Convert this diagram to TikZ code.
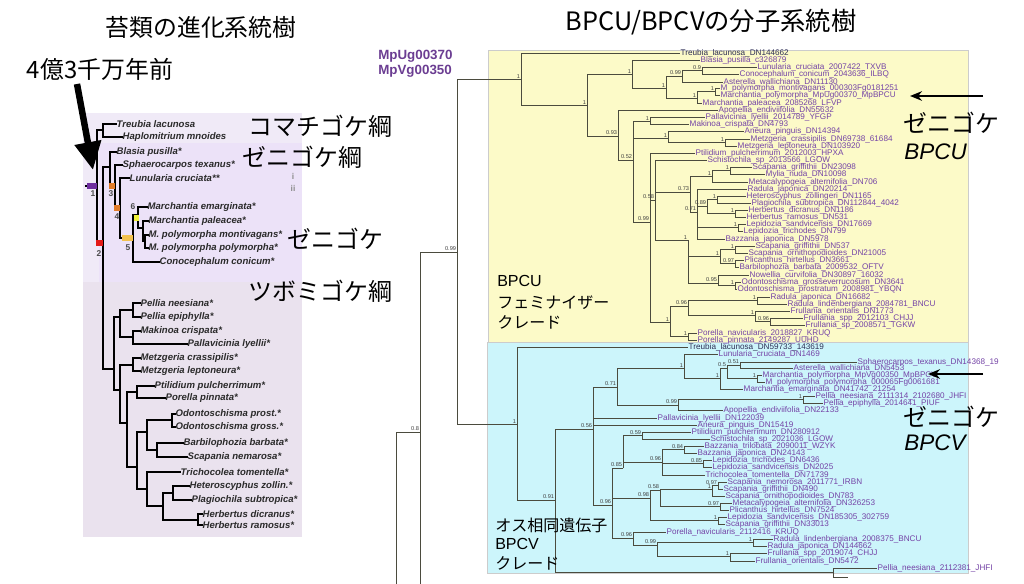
\documentclass[tikz,border=0pt]{standalone}
\usepackage{fontspec}
\usetikzlibrary{arrows.meta}
\newfontfamily\jpf{Noto Sans CJK JP}
\newfontfamily\arf{Liberation Sans}
\definecolor{lav1}{HTML}{F0EAF7}
\definecolor{lav2}{HTML}{ECE2F8}
\definecolor{lav3}{HTML}{EAE2EE}
\definecolor{ylw}{HTML}{FCFAC8}
\definecolor{cyn}{HTML}{CCF5FB}
\definecolor{prp}{HTML}{7443A6}
\definecolor{trb}{HTML}{2E2E55}
\definecolor{brn}{HTML}{4B4B3E}
\definecolor{idp}{HTML}{6B3D92}
\definecolor{lgr}{HTML}{2A2A2A}
\definecolor{mkp}{HTML}{6E2E9E}
\definecolor{mkr}{HTML}{E41B17}
\definecolor{mko}{HTML}{E07B28}
\definecolor{mky}{HTML}{F2C14E}
\definecolor{mkg}{HTML}{EFEF3A}
\tikzset{
	leafl/.style={anchor=west,inner sep=0.3pt,text=lgr,font=\arf\bfseries\itshape\fontsize{6.8}{7}\selectfont},
	leafr/.style={anchor=west,inner sep=0.3pt,text=prp,font=\arf\fontsize{5.8}{6}\selectfont},
	bsv/.style={anchor=south east,inner sep=0.5pt,text=black!75,font=\arf\fontsize{4}{4}\selectfont},
	mknum/.style={inner sep=0pt,text=black!70,font=\arf\bfseries\fontsize{6}{6}\selectfont},
	brl/.style={line width=1.3pt,line cap=rect,black},
	brr/.style={line width=0.6pt,brn},
	big/.style={font=\jpf\fontsize{17}{20}\selectfont},
	bigr/.style={anchor=west,font=\jpf\fontsize{17}{20}\selectfont},
	itl/.style={anchor=west,font=\arf\itshape\fontsize{16}{18}\selectfont},
	clade/.style={anchor=west,inner sep=0pt,font=\jpf\fontsize{11.4}{13}\selectfont},
	cladel/.style={anchor=west,inner sep=0pt,font=\arf\fontsize{11.4}{13}\selectfont},
	gid/.style={anchor=west,inner sep=0pt,text=idp,font=\arf\bfseries\fontsize{9.5}{10}\selectfont}
}
\begin{document}
\begin{tikzpicture}[x=0.025cm,y=-0.025cm]
	\useasboundingbox (0,0) rectangle (1024,584);
	\fill[white] (0,0) rectangle (1024,584);

	% backgrounds
	\fill[lav1] (83,113) rectangle (302,537);
	\fill[lav2] (99,143) rectangle (302,282);
	\fill[lav3] (83,282) rectangle (302,537);
	\fill[ylw,draw=black!20,line width=0.3pt] (488,50) rectangle (968,342);
	\fill[cyn,draw=black!20,line width=0.3pt] (487,342) rectangle (968,573);

	\node[big] (tl) at (201,27) {苔類の進化系統樹};
	\node[big,font=\jpf\fontsize{18}{20}\selectfont] (tr) at (711,22) {BPCU/BPCVの分子系統樹};
	\node[big] (age) at (100,69) {4億3千万年前};
	\node[bigr] (kom) at (244,126) {コマチゴケ綱};
	\node[bigr] (zek) at (238,157) {ゼニゴケ綱};
	\node[bigr] (zel) at (283,239) {ゼニゴケ};
	\node[bigr] (tsu) at (244,291) {ツボミゴケ綱};

	% left tree
	\foreach \nm/\xx/\yy/\tx in {
		l1/116/124/Treubia lacunosa, l2/122/137/Haplomitrium mnoides,
		l3/116/152/Blasia pusilla*, l4/122/165/Sphaerocarpos texanus*,
		l5/129/178/Lunularia cruciata**, l6/147/207/Marchantia emarginata*,
		l7/148/221/Marchantia paleacea*, l8/148/235/M. polymorpha montivagans*,
		l9/148/248/M. polymorpha polymorpha*, l10/159/262/Conocephalum conicum*,
		l11/140/303/Pellia neesiana*, l12/140/317/Pellia epiphylla*,
		l13/140/331/Makinoa crispata*, l14/187/344/Pallavicinia lyellii*,
		l15/140/358/Metzgeria crassipilis*, l16/140/371/Metzgeria leptoneura*,
		l17/154/386/Ptilidium pulcherrimum*, l18/165/398/Porella pinnata*,
		l19/175/414/Odontoschisma prost.*, l20/175/427/Odontoschisma gross.*,
		l21/183/443/Barbilophozia barbata*, l22/187/457/Scapania nemarosa*,
		l23/180/472/Trichocolea tomentella*, l24/189/486/Heteroscyphus zollin.*,
		l25/191/500/Plagiochila subtropica*, l26/202/514/Herbertus dicranus*,
		l27/202/525/Herbertus ramosus*}
		\node[leafl] (\nm) at (\xx,\yy) {\tx};
	\foreach \nm/\xx/\yy in {LS/86/186, LR/97/186, LH/103/130, L2/103/243, LM/110/167,
		L3/115/186, L4/120/208, L5/133/238, L6/138/215, L7/143/228, L8/145/241.5,
		LJ/114/369, LP/120/317, LPe/133/310, LPm/133/337, LMJ/120/390, LMe/133/365,
		LJu/127/423, LPo/137/392, LL/137/467, LO/147/432, LOd/172/420, LBS/157/450,
		LT/147/489, LHP/163/506, LHe/173/493, LHb/198/520}
		\coordinate (\nm) at (\xx,\yy);
	\draw[brl] (LS) -- (LR);
	\foreach \pn/\cn in {LR/LH, LR/L2, LH/l1, LH/l2, L2/LM, L2/LJ, LM/l3, LM/L3,
		L3/l4, L3/L4, L4/l5, L4/L5, L5/L6, L5/l10, L6/l6, L6/L7, L7/l7, L7/L8,
		L8/l8, L8/l9, LJ/LP, LJ/LMJ, LP/LPe, LP/LPm, LPe/l11, LPe/l12, LPm/l13,
		LPm/l14, LMJ/LMe, LMJ/LJu, LMe/l15, LMe/l16, LJu/LPo, LJu/LL, LPo/l17,
		LPo/l18, LL/LO, LL/LT, LO/LOd, LO/LBS, LOd/l19, LOd/l20, LBS/l21, LBS/l22,
		LT/l23, LT/LHP, LHP/LHe, LHP/LHb, LHe/l24, LHe/l25, LHb/l26, LHb/l27}
		\draw[brl] (\pn) |- (\cn);

	\fill[mkp] (87,183) rectangle (97,189);
	\fill[mkr] (96,240) rectangle (103,246);
	\fill[mko] (109,183) rectangle (115,189);
	\fill[mko] (114,205) rectangle (120,211);
	\fill[mky] (122,235) rectangle (133,241);
	\fill[mkg] (134,215) rectangle (139,221);
	\node[mknum] at (93,194) {1};
	\node[mknum] at (99,254) {2};
	\node[mknum] at (111,194) {3};
	\node[mknum] at (117,217) {4};
	\node[mknum] at (128,248) {5};
	\node[mknum] at (133,207) {6};
	\node[mknum,text=black!45] at (293,176) {i};
	\node[mknum,text=black!45] at (293,188) {ii};

	\coordinate (ag1) at (77,84);
	\coordinate (ag2) at (93,170);
	\draw[line width=4.6pt,-{Triangle[length=7mm,width=6.4mm]}] (ag1) -- (ag2);

	% right tree
	\node[gid] (mpu) at (378,56) {MpUg00370};
	\node[gid] (mpv) at (378,71) {MpVg00350};
	\node[leafr,text=trb] (u1) at (680,53) {Treubia\_lacunosa\_DN144662};
	\foreach \nm/\xx/\yy/\tx in {
		u2/700/60/Blasia\_pusilla\_c326879,
		u3/757/67/Lunularia\_cruciata\_2007422\_TXVB,
		u4/739/74/Conocephalum\_conicum\_2043636\_ILBQ,
		u5/723/82/Asterella\_wallichiana\_DN11130,
		u6/720/88/M\_polymorpha\_montivagans\_000303Fg0181251,
		u7/720/95/Marchantia\_polymorpha\_MpUg00370\_MpBPCU,
		u8/702/103/Marchantia\_paleacea\_2085268\_LFVP,
		u9/718/110/Apopellia\_endiviifolia\_DN55632,
		u10/705/117/Pallavicinia\_lyellii\_2014789\_YFGP,
		u11/689/124/Makinoa\_crispata\_DN4793,
		u12/744/131/Aneura\_pinguis\_DN14394,
		u13/750/139/Metzgeria\_crassipilis\_DN69738\_61684,
		u14/737/146/Metzgeria\_leptoneura\_DN103920,
		u15/695/153/Ptilidium\_pulcherrimum\_2012003\_HPXA,
		u16/707/160/Schistochila\_sp\_2013566\_LGOW,
		u17/752/167/Scapania\_griffithii\_DN23098,
		u18/765/174/Mylia\_nuda\_DN10098,
		u19/748/182/Metacalypogeia\_alternifolia\_DN706,
		u20/747/189/Radula\_japonica\_DN20214,
		u21/746/196/Heteroscyphus\_zollingeri\_DN1165,
		u22/751/203/Plagiochila\_subtropica\_DN112844\_4042,
		u23/748/210/Herbertus\_dicranus\_DN1186,
		u24/746/217/Herbertus\_ramosus\_DN531,
		u25/746/224/Lepidozia\_sandvicensis\_DN17669,
		u26/743/231/Lepidozia\_trichodes\_DN799,
		u27/725/239/Bazzania\_japonica\_DN5978,
		u28/755/246/Scapania\_griffithii\_DN537,
		u29/748/253/Scapania\_ornithopodioides\_DN21005,
		u30/744/260/Plicanthus\_hirtellus\_DN3661,
		u31/739/267/Barbilophozia\_barbata\_2009532\_OFTV,
		u32/749/275/Nowellia\_curvifolia\_DN30897\_16032,
		u33/741/282/Odontoschisma\_grosseverrucosum\_DN3641,
		u34/737/289/Odontoschisma\_prostratum\_2008981\_YBQN,
		u35/770/297/Radula\_japonica\_DN16682,
		u36/787/304/Radula\_lindenbergiana\_2084781\_BNCU,
		u37/790/311/Frullania\_orientalis\_DN1773,
		u38/803/318/Frullania\_spp\_2012103\_CHJJ,
		u39/805/325/Frullania\_sp\_2008571\_TGKW,
		u40/697/333/Porella\_navicularis\_2018827\_KRUQ,
		u41/697/340/Porella\_pinnata\_2149287\_UUHD}
		\node[leafr] (\nm) at (\xx,\yy) {\tx};
	\node[leafr,text=trb] (v1) at (688,347) {Treubia\_lacunosa\_DN59733\_143619};
	\foreach \nm/\xx/\yy/\tx in {
		v2/718/354/Lunularia\_cruciata\_DN1469,
		v3/857/362/Sphaerocarpos\_texanus\_DN14368\_19,
		v4/793/368/Asterella\_wallichiana\_DN5453,
		v5/762/375/Marchantia\_polymorpha\_MpVg00350\_MpBPCV,
		v6/765/382/M\_polymorpha\_polymorpha\_000065Fg0061681,
		v7/743/389/Marchantia\_emarginata\_DN41742\_21254,
		v8/815/396/Pellia\_neesiana\_2111314\_2102680\_JHFI,
		v9/823/403/Pellia\_epiphylla\_2014641\_PIUF,
		v10/723/410/Apopellia\_endiviifolia\_DN22133,
		v11/657/418/Pallavicinia\_lyellii\_DN122039,
		v12/697/425/Aneura\_pinguis\_DN15419,
		v13/691/432/Ptilidium\_pulcherrimum\_DN280912,
		v14/710/439/Schistochila\_sp\_2021036\_LGOW,
		v15/704/446/Bazzania\_trilobata\_2090011\_WZYK,
		v16/697/453/Bazzania\_japonica\_DN24143,
		v17/712/460/Lepidozia\_trichodes\_DN6436,
		v18/712/467/Lepidozia\_sandvicensis\_DN2025,
		v19/705/475/Trichocolea\_tomentella\_DN71739,
		v20/727/482/Scapania\_nemorosa\_2011771\_IRBN,
		v21/723/489/Scapania\_griffithii\_DN490,
		v22/725/496/Scapania\_ornithopodioides\_DN783,
		v23/732/503/Metacalypogeia\_alternifolia\_DN326253,
		v24/729/510/Plicanthus\_hirtellus\_DN7524,
		v25/727/517/Lepidozia\_sandvicensis\_DN185305\_302759,
		v26/725/524/Scapania\_griffithii\_DN33013,
		v27/666/532/Porella\_navicularis\_2112416\_KRUQ,
		v28/773/539/Radula\_lindenbergiana\_2008375\_BNCU,
		v29/767/546/Radula\_japonica\_DN144662,
		v30/767/553/Frullania\_spp\_2019074\_CHJJ,
		v31/755/561/Frullania\_orientalis\_DN5472,
		v32/877/568/Pellia\_neesiana\_2112381\_JHFI}
		\node[leafr] (\nm) at (\xx,\yy) {\tx};

	\foreach \nm/\xx/\yy in {RP/396/584, RQ/420/432, RQe/420/584, RR/457/252,
		Y0/521/79, YB/587/105, YC/632/74, YE/666/88, YF/682/76, YH/702/70.5,
		YG/697/98, YI/715/91.5, YD/618/136, YK/633/160, YL/650/121, YN/668/138,
		YO/725/142.5, YM/650/222, YS/655/200, YW/690/192, YX/712/176, YX2/730/170.5,
		YY/697/212, YZ/707/206, YHP/717/199.5, YHb/735/213.5, YLp/738/227.5,
		YU/688/240, YU1/720/256.5, YU3/735/249.5, YU4/735/263.5, YU2/718/283,
		YU5/735/285.5, YQ/670/322, YQ1/688/306, YQ3/757/300.5, YQ4/755/315,
		YQ5/770/321.5, YQ2/688/336.5,
		C0/517/424, C1/555/500, CP/833/572, cpe/848/577, C2/593/429, C4/617/387,
		C22/684/368, C24/720/378, C24a/727/368, C25/740/365, C26/757/378.5,
		C23/678/405, C27/803/399.5, C5/612/505, C7/623/468, C9/642/435.5,
		C10/662/462, C12/684/449.5, C13/703/463.5, C11/650/498, C17/660/490,
		C14/712/489, C14a/718/485.5, C15/720/506.5, C18/718/520.5, C8/633/538,
		C19/657/545, C20/753/542.5, C21/730/556.5}
		\coordinate (\nm) at (\xx,\yy);

	\draw[brr] (RP) |- (RQ);
	\draw[brr] (RQ) -- (RQe);
	\foreach \pn/\cn in {RQ/RR, RR/Y0, RR/C0,
		Y0/u1, Y0/YB, YB/YC, YB/YD, YC/u2, YC/YE, YE/YF, YE/YG, YF/YH, YF/u5,
		YH/u3, YH/u4, YG/YI, YG/u8, YI/u6, YI/u7, YD/u9, YD/YK, YK/YL, YK/YN,
		YK/YM, YL/u10, YL/u11, YN/u12, YN/YO, YO/u13, YO/u14, YM/u15, YM/YS,
		YM/YQ, YS/u16, YS/YW, YS/YU, YW/YX, YW/YY, YX/YX2, YX/u19, YX2/u17,
		YX2/u18, YY/u20, YY/YZ, YY/YLp, YY/u27, YZ/YHP, YZ/YHb, YHP/u21, YHP/u22,
		YHb/u23, YHb/u24, YLp/u25, YLp/u26, YU/YU1, YU/YU2, YU1/YU3, YU1/YU4,
		YU3/u28, YU3/u29, YU4/u30, YU4/u31, YU2/u32, YU2/YU5, YU5/u33, YU5/u34,
		YQ/YQ1, YQ/YQ2, YQ1/YQ3, YQ1/YQ4, YQ3/u35, YQ3/u36, YQ4/u37, YQ4/YQ5,
		YQ5/u38, YQ5/u39, YQ2/u40, YQ2/u41,
		C0/v1, C0/C1, C1/C2, C1/CP, CP/v32, CP/cpe, C2/C4, C2/v11, C2/v12, C2/C5,
		C4/C22, C4/C23, C22/v2, C22/C24, C24/C24a, C24/v7, C24a/C25, C24a/C26,
		C25/v3, C25/v4, C26/v5, C26/v6, C23/C27, C23/v10, C27/v8, C27/v9,
		C5/C7, C5/C11, C5/C8, C7/C9, C7/C10, C9/v13, C9/v14, C10/C12, C10/C13,
		C10/v19, C12/v15, C12/v16, C13/v17, C13/v18, C11/C17, C11/C18, C17/C14,
		C17/C15, C14/C14a, C14/v22, C14a/v20, C14a/v21, C15/v23, C15/v24,
		C18/v25, C18/v26, C8/v27, C8/C19, C19/C20, C19/C21, C20/v28, C20/v29,
		C21/v30, C21/v31}
		\draw[brr] (\pn) |- (\cn);

	\foreach \nm/\vl in {RR/0.99, RQ/0.8, Y0/1, YB/1, YC/1, YE/1, YF/0.99, YH/0.9,
		YG/1, YI/1, YD/0.93, YK/0.52, YL/1, YN/1, YO/1, YM/0.99, YS/0.58, YW/0.73,
		YX/1, YX2/1, YY/0.71, YZ/0.89, YHP/1, YHb/1, YLp/1, YU/1, YU1/1, YU3/1,
		YU4/0.97, YU2/0.95, YU5/1, YQ/1, YQ1/0.96, YQ3/1, YQ4/1, YQ5/0.96, YQ2/1,
		C0/1, C1/0.91, C2/0.56, C4/0.71, C22/1, C24/1, C24a/0.5, C25/0.51, C26/1,
		C23/0.99, C27/1, C5/0.96, C7/0.85, C9/0.59, C10/0.96, C12/0.84, C13/0.85,
		C11/0.98, C17/0.58, C14/1, C14a/0.97, C15/0.97, C18/1, C8/0.96, C19/0.99,
		C20/1, C21/1}
		\node[bsv] at (\nm) {\vl};

	\node[cladel] (fu1) at (497,281) {BPCU};
	\node[clade] (fu2) at (497,303) {フェミナイザー};
	\node[clade] (fu3) at (497,322) {クレード};
	\node[clade] (ov1) at (495,525) {オス相同遺伝子};
	\node[cladel] (ov2) at (495,544) {BPCV};
	\node[clade] (ov3) at (495,563) {クレード};

	\node[bigr,inner sep=0pt] (zu) at (903,123) {ゼニゴケ};
	\node[itl,inner sep=0pt] (bu) at (904,152) {BPCU};
	\node[bigr,inner sep=0pt] (zv) at (903,417) {ゼニゴケ};
	\node[itl,inner sep=0pt] (bv) at (904,443) {BPCV};
	\coordinate (au1) at (983,96);
	\coordinate (au2) at (910,96);
	\coordinate (av1) at (983,374);
	\coordinate (av2) at (928,374);
	\draw[line width=1.1pt,-{Stealth[length=3mm,width=2.4mm]}] (au1) -- (au2);
	\draw[line width=1.1pt,-{Stealth[length=3mm,width=2.4mm]}] (av1) -- (av2);
\end{tikzpicture}
\end{document}
